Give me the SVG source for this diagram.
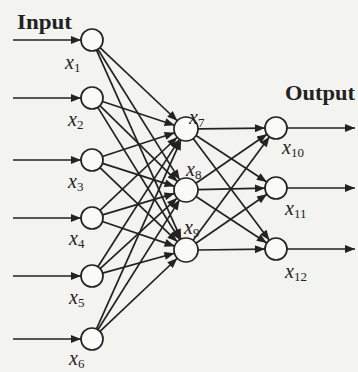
<svg xmlns="http://www.w3.org/2000/svg" width="358" height="372" viewBox="0 0 358 372">
<defs>
<marker id="ah" viewBox="0 0 10 8" refX="10" refY="4" markerWidth="11" markerHeight="8" markerUnits="userSpaceOnUse" orient="auto">
<path d="M0,0 L10,4 L0,8 Z" fill="#222"/>
</marker>
<style>
.c{stroke:#222;stroke-width:1.7;fill:none;marker-end:url(#ah)}
.n{fill:#fafaf8;stroke:#222;stroke-width:1.7}
.lb{font-family:"Liberation Serif",serif;font-size:20px;font-style:italic;fill:#222}
.sb{font-size:13px;font-style:normal}
.tt{font-family:"Liberation Serif",serif;font-size:22px;font-weight:bold;fill:#222}
</style>
</defs>
<rect width="358" height="372" fill="#f3f3ef"/>
<g id="connectors">
<line class="c" x1="13" y1="40" x2="81" y2="40"/>
<line class="c" x1="13" y1="98" x2="81" y2="98"/>
<line class="c" x1="13" y1="160" x2="81" y2="160"/>
<line class="c" x1="13" y1="218" x2="81" y2="218"/>
<line class="c" x1="13" y1="276" x2="81" y2="276"/>
<line class="c" x1="13" y1="339" x2="81" y2="339"/>
<line class="c" x1="99.99" y1="47.56" x2="177.29" y2="120.75"/>
<line class="c" x1="97.84" y1="49.32" x2="179.63" y2="179.83"/>
<line class="c" x1="96.49" y1="50.04" x2="181.10" y2="239.05"/>
<line class="c" x1="102.45" y1="101.45" x2="174.60" y2="125.24"/>
<line class="c" x1="99.86" y1="105.69" x2="177.42" y2="181.61"/>
<line class="c" x1="97.79" y1="107.36" x2="179.69" y2="239.79"/>
<line class="c" x1="102.45" y1="156.55" x2="174.60" y2="132.76"/>
<line class="c" x1="102.48" y1="163.34" x2="174.57" y2="186.35"/>
<line class="c" x1="99.95" y1="167.61" x2="177.33" y2="241.70"/>
<line class="c" x1="99.99" y1="210.44" x2="177.29" y2="137.25"/>
<line class="c" x1="102.54" y1="214.86" x2="174.50" y2="193.43"/>
<line class="c" x1="102.41" y1="221.55" x2="174.64" y2="246.13"/>
<line class="c" x1="97.93" y1="266.73" x2="179.54" y2="139.11"/>
<line class="c" x1="100.12" y1="268.57" x2="177.15" y2="198.10"/>
<line class="c" x1="102.60" y1="273.07" x2="174.43" y2="253.20"/>
<line class="c" x1="96.49" y1="328.96" x2="181.10" y2="139.95"/>
<line class="c" x1="97.87" y1="329.70" x2="179.60" y2="199.85"/>
<line class="c" x1="99.99" y1="331.44" x2="177.29" y2="258.25"/>
<line class="c" x1="198" y1="128.9" x2="265" y2="128.1"/>
<line class="c" x1="196.04" y1="135.58" x2="266.80" y2="181.97"/>
<line class="c" x1="193.2" y1="138.6" x2="269.4" y2="240.2"/>
<line class="c" x1="195.88" y1="183.19" x2="266.94" y2="134.24"/>
<line class="c" x1="198" y1="189.7" x2="265" y2="188.2"/>
<line class="c" x1="196.04" y1="196.58" x2="266.80" y2="242.97"/>
<line class="c" x1="193.12" y1="240.34" x2="269.47" y2="136.85"/>
<line class="c" x1="195.88" y1="243.19" x2="266.94" y2="194.24"/>
<line class="c" x1="198" y1="250" x2="265" y2="249.1"/>
<line class="c" x1="287" y1="128" x2="355" y2="128"/>
<line class="c" x1="287" y1="188" x2="355" y2="188"/>
<line class="c" x1="287" y1="249" x2="355" y2="249"/>
</g>
<text class="tt" x="17" y="29" textLength="55" lengthAdjust="spacingAndGlyphs">Input</text>
<text class="tt" x="285" y="100" textLength="70" lengthAdjust="spacingAndGlyphs">Output</text>
<g id="x1"><circle class="n" cx="92" cy="40" r="11"/><text class="lb" x="65" y="69">x<tspan class="sb" dy="3">1</tspan></text></g>
<g id="x2"><circle class="n" cx="92" cy="98" r="11"/><text class="lb" x="68" y="126">x<tspan class="sb" dy="3">2</tspan></text></g>
<g id="x3"><circle class="n" cx="92" cy="160" r="11"/><text class="lb" x="68" y="188">x<tspan class="sb" dy="3">3</tspan></text></g>
<g id="x4"><circle class="n" cx="92" cy="218" r="11"/><text class="lb" x="69" y="245">x<tspan class="sb" dy="3">4</tspan></text></g>
<g id="x5"><circle class="n" cx="92" cy="276" r="11"/><text class="lb" x="69" y="304">x<tspan class="sb" dy="3">5</tspan></text></g>
<g id="x6"><circle class="n" cx="92" cy="339" r="11"/><text class="lb" x="69" y="365">x<tspan class="sb" dy="3">6</tspan></text></g>
<g id="x7"><circle class="n" cx="186" cy="129" r="12"/><text class="lb" x="189" y="124">x<tspan class="sb" dy="3">7</tspan></text></g>
<g id="x8"><circle class="n" cx="186" cy="190" r="12"/><text class="lb" x="186" y="176">x<tspan class="sb" dy="3">8</tspan></text></g>
<g id="x9"><circle class="n" cx="186" cy="250" r="12"/><text class="lb" x="184" y="234">x<tspan class="sb" dy="3">9</tspan></text></g>
<g id="x10"><circle class="n" cx="276" cy="128" r="11"/><text class="lb" x="282" y="154">x<tspan class="sb" dy="3">10</tspan></text></g>
<g id="x11"><circle class="n" cx="276" cy="188" r="11"/><text class="lb" x="285" y="215">x<tspan class="sb" dy="3">11</tspan></text></g>
<g id="x12"><circle class="n" cx="276" cy="249" r="11"/><text class="lb" x="285" y="278">x<tspan class="sb" dy="3">12</tspan></text></g>
</svg>
